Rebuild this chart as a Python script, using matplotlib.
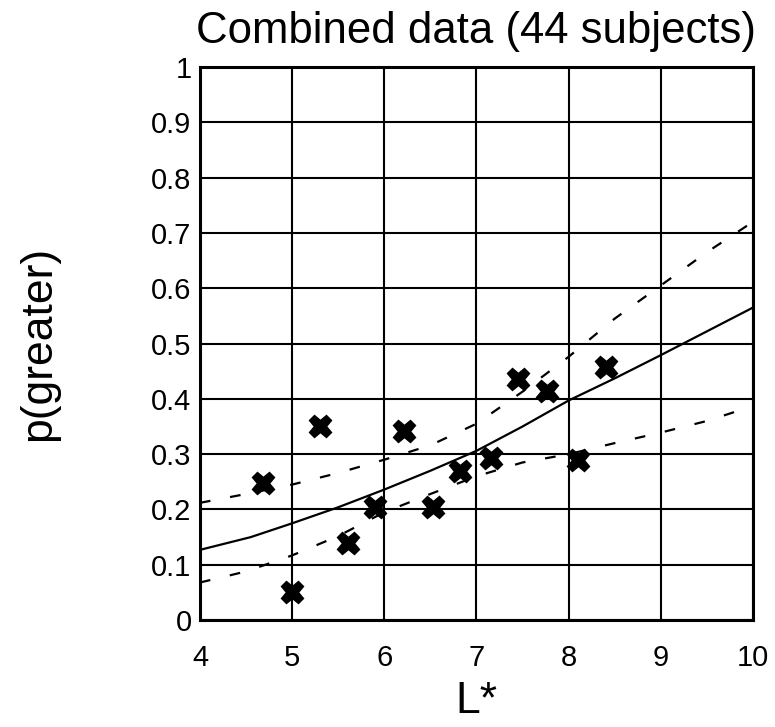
import matplotlib
matplotlib.use("Agg")
import matplotlib.pyplot as plt

plt.rcParams['font.family'] = ['Liberation Sans', 'DejaVu Sans']

# data points (L*, p(greater))
lstar = [4.685, 5.0, 5.30, 5.61, 5.90, 6.21, 6.53, 6.82, 7.16, 7.45, 7.77, 8.10, 8.40]
p_greater = [0.248, 0.050, 0.350, 0.139, 0.205, 0.341, 0.204, 0.270, 0.293, 0.436, 0.415, 0.289, 0.458]

# fitted curve and bounds
fit_x = [4.0, 4.55, 5.0, 5.5, 6.0, 6.5, 7.0, 7.5, 8.0, 8.5, 9.0, 9.5, 10.0]
fit_y = [0.127, 0.150, 0.175, 0.204, 0.236, 0.270, 0.306, 0.350, 0.397, 0.437, 0.479, 0.522, 0.565]

upper_x = [4.0, 4.5, 5.0, 5.5, 6.0, 6.5, 7.0, 7.5, 8.0, 8.5, 9.0, 9.5, 10.0]
upper_y = [0.212, 0.228, 0.245, 0.266, 0.290, 0.316, 0.355, 0.413, 0.476, 0.545, 0.605, 0.665, 0.720]

lower_x = [4.0, 4.5, 5.0, 5.5, 6.0, 6.5, 7.0, 7.5, 8.0, 8.5, 9.0, 9.5, 10.0]
lower_y = [0.068, 0.088, 0.117, 0.152, 0.195, 0.228, 0.260, 0.285, 0.300, 0.320, 0.339, 0.360, 0.387]

x_ticks = [4, 5, 6, 7, 8, 9, 10]
y_ticks = [0, 0.1, 0.2, 0.3, 0.4, 0.5, 0.6, 0.7, 0.8, 0.9, 1]
y_labels = ['0', '0.1', '0.2', '0.3', '0.4', '0.5', '0.6', '0.7', '0.8', '0.9', '1']

fig = plt.figure(figsize=(7.75, 7.27), dpi=100)
ax = fig.add_axes([0.258, 0.147, 0.9716 - 0.258, 0.908 - 0.147])

ax.plot(fit_x, fit_y, color='black', lw=1.6, zorder=3)
ax.plot(upper_x, upper_y, color='black', lw=1.6, dashes=(4.8, 9.0), zorder=3)
ax.plot(lower_x, lower_y, color='black', lw=1.6, dashes=(4.8, 9.0), zorder=3)
ax.plot(lstar, p_greater, linestyle='none', marker='X', markersize=16,
        color='black', markeredgecolor='black', zorder=4)

ax.set_xlim(4, 10)
ax.set_ylim(0, 1)
ax.set_xticks(x_ticks)
ax.set_yticks(y_ticks)
ax.set_yticklabels(y_labels)
ax.tick_params(length=0, labelsize=21)
ax.tick_params(axis='x', pad=17)
ax.tick_params(axis='y', pad=6)
ax.grid(True, color='black', lw=1.5)
ax.set_axisbelow(True)
for s in ax.spines.values():
    s.set_linewidth(2.2)

ax.set_title('Combined data (44 subjects)', fontsize=31.5, pad=17)
ax.set_xlabel('L*', fontsize=32, labelpad=7)
ax.set_ylabel('p(greater)', fontsize=32, labelpad=66)

fig.savefig('out.png', dpi=100)
